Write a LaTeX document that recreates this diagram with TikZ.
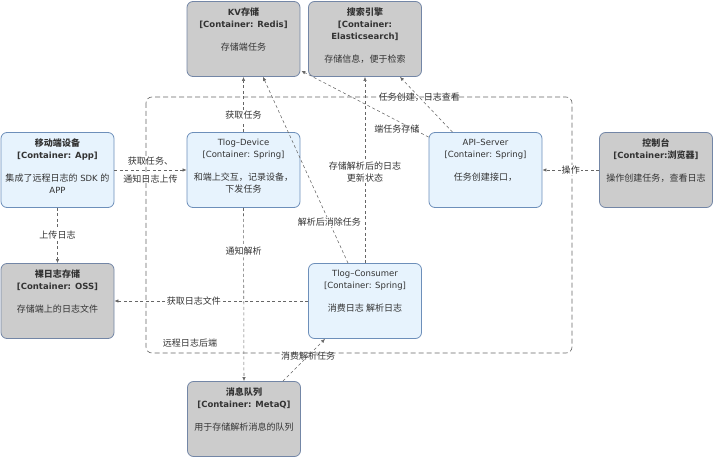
\documentclass[tikz,border=0pt]{standalone}
\usepackage{fontspec}
\setmainfont{DejaVu Sans}
\newfontfamily\zhfont{Noto Sans CJK SC}[Scale=1.06]
\newcommand{\zh}[1]{{\zhfont #1}}
\usepackage{tikz}
\usetikzlibrary{arrows.meta,positioning}

\definecolor{extfill}{HTML}{CCCCCC}
\definecolor{extline}{HTML}{7386A6}
\definecolor{ctrfill}{HTML}{E7F3FD}
\definecolor{ctrline}{HTML}{6D8FBA}
\definecolor{relline}{HTML}{666666}

% box text: head (title + type), gap, description
\newcommand{\cbox}[4][\bfseries]{\parbox[c][62pt][t]{111pt}{\centering{#1#2\\\relax#3}\\[11pt]#4}}

\begin{document}
\begin{tikzpicture}[x=1pt,y=-1pt,
  every node/.style={font=\fontsize{8.5}{12}\selectfont, text=black!80},
  ctr/.style={draw=ctrline, fill=ctrfill, rounded corners=6pt, minimum width=113pt,
    minimum height=75pt, inner sep=0pt, line width=0.8pt},
  ext/.style={ctr, draw=extline, fill=extfill},
  rel/.style={draw=relline, dash pattern=on 3pt off 2.5pt, line width=0.55pt,
    -{Latex[length=4pt,width=3.5pt]}},
  lbl/.style={fill=white, inner sep=1pt}]
  \useasboundingbox (0,0) rectangle (713,457);

  % boundary
  \draw[relline, dash pattern=on 5pt off 3pt, line width=0.6pt, rounded corners=6pt]
    (146,97) rectangle (572,353);
  \node (bnd) at (190,343) {\zh{远程日志后端}};

  % containers
  \node[ext] (kv) at (243.5,39) {\cbox{KV\zh{存储}}{[Container: Redis]}{\zh{存储端任务}}};
  \node[ext] (es) at (365,39) {\cbox{\zh{搜索引擎}}{[Container:\\Elasticsearch]}{\zh{存储信息，便于检索}}};
  \node[ctr] (app) at (57.5,170) {\cbox{\zh{移动端设备}}{[Container: App]}{\zh{集成了远程日志的} SDK \zh{的}\\APP}};
  \node[ctr] (dev) at (243.5,170) {\cbox[\mdseries]{Tlog–Device}{[Container: Spring]}{\zh{和端上交互，记录设备，}\\\zh{下发任务}}};
  \node[ctr] (api) at (485.5,170) {\cbox[\mdseries]{API–Server}{[Container: Spring]}{\zh{任务创建接口，}}};
  \node[ext] (web) at (656,170) {\cbox{\zh{控制台}}{[Container:\zh{浏览器}]}{\zh{操作创建任务，查看日志}}};
  \node[ext] (oss) at (57.5,301) {\cbox{\zh{裸日志存储}}{[Container: OSS]}{\zh{存储端上的日志文件}}};
  \node[ctr] (con) at (365,301) {\cbox[\mdseries]{Tlog–Consumer}{[Container: Spring]}{\zh{消费日志 解析日志}}};
  \node[ext] (mq) at (244,419) {\cbox{\zh{消息队列}}{[Container: MetaQ]}{\zh{用于存储解析消息的队列}}};

  % relations
  \draw[rel] (dev.north) -- node[lbl,pos=0.3] {\zh{获取任务}} (kv.south);
  \draw[rel] ([xshift=-17pt]con.north) -- node[lbl,pos=0.22] {\zh{解析后消除任务}} ([xshift=19.5pt]kv.south);
  \draw[rel] ([yshift=-5pt]api.north west) -- node[pos=0.25,below=1pt] {\zh{端任务存储}} ([xshift=1pt,yshift=6pt]kv.south east);
  \draw[rel] (con.north) -- node[lbl,pos=0.49,align=center] {\zh{存储解析后的日志}\\\zh{更新状态}} (es.south);
  \draw[rel] ([xshift=-33pt]api.north) -- node[pos=0.63] {\zh{任务创建，日志查看}} ([xshift=35pt]es.south);
  \draw[rel] (app.east) -- node[align=center] {\zh{获取任务、}\\[6pt]\zh{通知日志上传}} (dev.west);
  \draw[rel] (app.south) -- node[lbl] {\zh{上传日志}} (oss.north);
  \draw[rel] (con.west) -- node[lbl,pos=0.59] {\zh{获取日志文件}} (oss.east);
  \draw[rel] (web.west) -- node[lbl] {\zh{操作}} (api.east);
  \draw[rel] (dev.south) -- node[lbl,pos=0.25] {\zh{通知解析}} (mq.north);
  \draw[rel] ([xshift=39pt]mq.north) -- node[pos=0.6] {\zh{消费解析任务}} ([xshift=-40pt]con.south);
\end{tikzpicture}
\end{document}
